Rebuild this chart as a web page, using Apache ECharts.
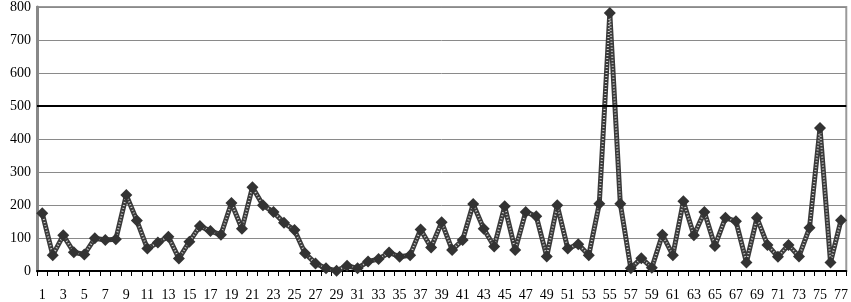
<!DOCTYPE html>
<html><head><meta charset="utf-8">
<script src="https://cdn.jsdelivr.net/npm/echarts@6/dist/echarts.min.js"></script>
<style>html,body{margin:0;padding:0;background:#fff}#c{width:851px;height:302px}</style>
</head><body><div id="c"></div>
<script>
const categories = Array.from({length: 77}, (_, i) => String(i + 1));
const values = [
  175, 48, 108, 57, 50, 99, 94, 96, 230, 153,
  68, 86, 104, 38, 89, 136, 121, 110, 206, 128,
  254, 199, 179, 146, 124, 54, 23, 8, 1, 16,
  8, 29, 36, 56, 43, 48, 126, 71, 148, 64,
  94, 203, 128, 74, 196, 64, 179, 166, 44, 199,
  68, 81, 48, 204, 782, 204, 8, 39, 10, 110,
  48, 211, 108, 179, 76, 161, 151, 26, 161, 79,
  43, 79, 44, 131, 433, 26, 154
];
const yTicks = [0, 100, 200, 300, 400, 500, 600, 700, 800];
const refLine = 500;

const chart = echarts.init(document.getElementById('c'), null, {renderer: 'canvas'});
const font = '"Liberation Serif", "Times New Roman", serif';
chart.setOption({
  animation: false,
  grid: {left: 37, right: 1, top: 5, bottom: 30, show: true, borderColor: '#9a9a9a', borderWidth: 2},
  xAxis: {
    type: 'category', data: categories, boundaryGap: true,
    axisLine: {lineStyle: {color: '#000', width: 2}},
    axisTick: {show: true, interval: 0, length: 5, lineStyle: {color: '#000', width: 1}},
    axisLabel: {interval: 1, color: '#000', fontFamily: font, fontSize: 14, margin: 17}
  },
  yAxis: {
    type: 'value', min: yTicks[0], max: yTicks[yTicks.length - 1], interval: 100,
    axisLine: {show: true, lineStyle: {color: '#888', width: 3}},
    axisTick: {show: false},
    axisLabel: {color: '#000', fontFamily: font, fontSize: 14, margin: 6},
    splitLine: {lineStyle: {color: '#8a8a8a', width: 1}}
  },
  series: [
    {
      type: 'line', data: values, symbol: 'none',
      lineStyle: {color: '#3a3a3a', width: 5},
      markLine: {
        silent: true, symbol: 'none', label: {show: false},
        lineStyle: {color: '#000', width: 2, type: 'solid'},
        data: [{yAxis: refLine}]
      },
      z: 3
    },
    {
      type: 'line', data: values, symbol: 'none',
      lineStyle: {color: '#d0d0d0', width: 2, type: [1, 2]},
      z: 4
    },
    {
      type: 'line', data: values, symbol: 'diamond', symbolSize: 12, showAllSymbol: true,
      itemStyle: {color: '#333', borderWidth: 0},
      lineStyle: {width: 0, opacity: 0},
      z: 5
    }
  ]
});
</script></body></html>
